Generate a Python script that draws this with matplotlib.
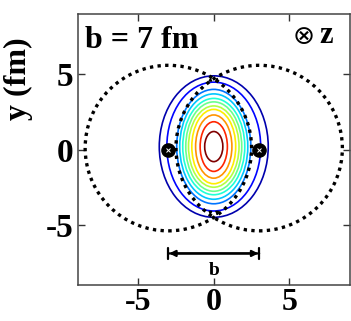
import numpy as np
import matplotlib
matplotlib.use("Agg")
import matplotlib.pyplot as plt
from matplotlib.patches import Ellipse, Circle

# ---------------- data ----------------
# contour ellipses, outermost -> innermost (fm)
semi_x = [3.6, 3.1, 2.45, 2.25, 2.05, 1.85, 1.67, 1.45, 1.2, 0.9, 0.6]
semi_y = [4.7, 4.28, 3.8, 3.5, 3.2, 2.97, 2.7, 2.47, 2.1, 1.65, 1.0]
levels = [0.04, 0.13, 0.24, 0.32, 0.39, 0.48, 0.57, 0.66, 0.75, 0.87, 1.0]
center_y = 0.2

# the two nuclei (dotted circles) and their centres
nuc_x = [-3.0, 3.0]
nuc_y = [0.1, 0.1]
nuc_r = 5.5

ticks = [-5, 0, 5]
b_half = 3.0

plt.rcParams["font.family"] = ["Liberation Serif", "DejaVu Sans"]
plt.rcParams["font.weight"] = "bold"

fig = plt.figure(figsize=(3.51, 3.21), dpi=100)
ax = fig.add_axes([0.221, 0.112, 0.776, 0.844])

cmap = plt.get_cmap("jet")
for a, b, lv in zip(semi_x, semi_y, levels):
    ax.add_patch(Ellipse((0, center_y), 2 * a, 2 * b, fill=False,
                         ec=cmap(lv), lw=1.2, zorder=3))

for cx, cy in zip(nuc_x, nuc_y):
    ax.add_patch(Circle((cx, cy), nuc_r, fill=False, ec="black", lw=2.4,
                        ls=(0, (1, 1.3)), zorder=4))

# nucleus centre markers
ax.plot(nuc_x, [0, 0], "o", color="black", ms=9.5, zorder=5)
ax.plot(nuc_x, [0, 0], "x", color="white", ms=3, mew=0.7, zorder=6)

# small arrows at the crossing points
for x0 in [-0.22, 0.22]:
    ax.annotate("", xy=(x0, 5.0), xytext=(x0, 4.45),
                arrowprops=dict(arrowstyle="-|>", lw=0.8, color="black",
                                mutation_scale=5), zorder=6)
    ax.annotate("", xy=(x0, -4.55), xytext=(x0, -4.05),
                arrowprops=dict(arrowstyle="-|>", lw=0.8, color="black",
                                mutation_scale=5), zorder=6)

# impact parameter bar
ax.annotate("", xy=(-b_half, -6.9), xytext=(b_half, -6.9),
            arrowprops=dict(arrowstyle="|-|", lw=1.6, color="black",
                            mutation_scale=4, shrinkA=0, shrinkB=0))
ax.annotate("", xy=(-b_half + 0.05, -6.9), xytext=(b_half - 0.05, -6.9),
            arrowprops=dict(arrowstyle="<|-|>", lw=1.6, color="black",
                            mutation_scale=9, shrinkA=0, shrinkB=0))
ax.text(0, -7.5, "b", ha="center", va="top", fontsize=14, fontweight="bold")

ax.text(-8.5, 6.75, "b = 7 fm", fontsize=23, fontweight="bold", va="baseline")
ax.text(5.95, 7.45, "\u2297", fontsize=19, family=["DejaVu Sans"],
        fontweight="normal", ha="center", va="center")
ax.text(7.0, 7.6, "z", fontsize=22, fontweight="bold", ha="left", va="center")

ax.set_xlim(-9, 9)
ax.set_ylim(-9, 9)
ax.set_xticks(ticks)
ax.set_yticks(ticks)
ax.set_xticklabels([str(t) for t in ticks], fontsize=23, fontweight="bold")
ax.set_yticklabels([str(t) for t in ticks], fontsize=24, fontweight="bold")
ax.tick_params(direction="in", length=5, width=1, top=True, right=True,
               pad=3, colors="#333333", labelcolor="black")
ax.tick_params(axis="x", pad=2)
ax.set_ylabel("y (fm)", fontsize=23, fontweight="bold")
ax.yaxis.set_label_coords(-0.165, 0.76)
for sp in ax.spines.values():
    sp.set_linewidth(1.1)
    sp.set_color("#444444")

fig.savefig("out.png", dpi=100)
